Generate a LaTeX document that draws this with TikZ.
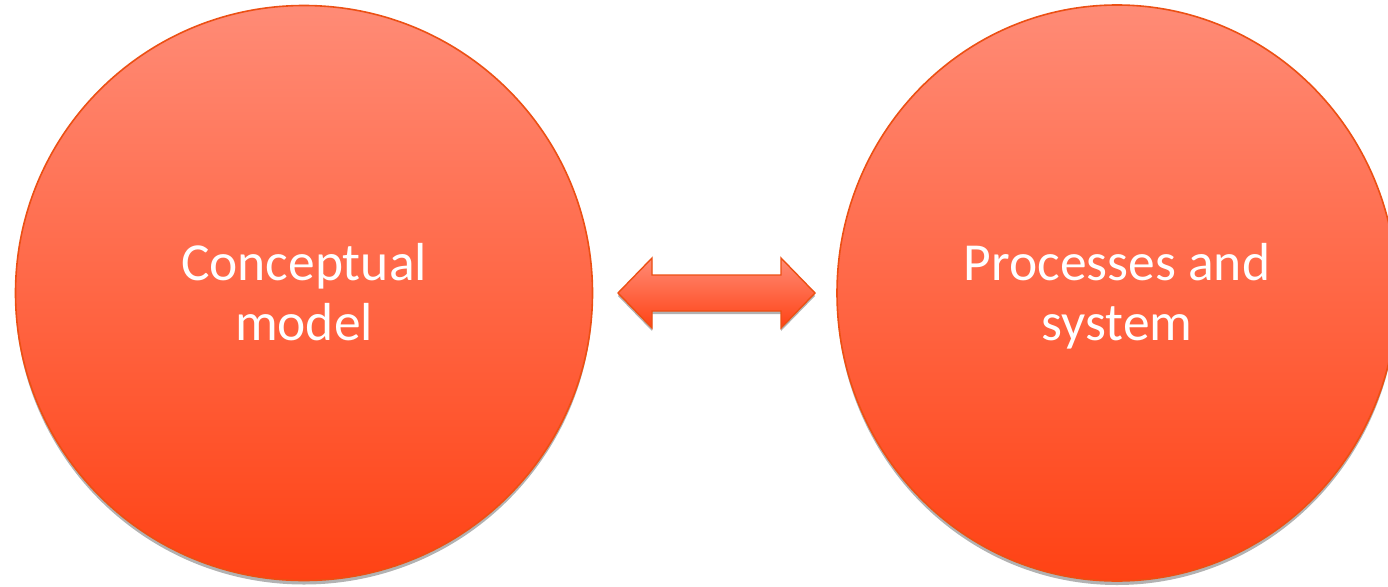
\documentclass[tikz,border=0pt]{standalone}
\usepackage{fontspec}
\setmainfont{Carlito}
\usetikzlibrary{shadows,shapes.geometric}
\definecolor{topc}{RGB}{255,139,118}
\definecolor{botc}{RGB}{255,66,20}
\definecolor{edgec}{RGB}{236,80,20}
\newcommand\lnstrut{\rule[-10pt]{0pt}{54pt}}
\tikzset{
  bubble/.style={ellipse, inner sep=0pt, draw=edgec, line width=1.6pt,
    top color=topc, bottom color=botc, text=white, align=center,
    font=\fontsize{53.5}{60}\selectfont,
    drop shadow={shadow xshift=0pt, shadow yshift=-4pt, opacity=0.3, fill=black}},
  dblarrow/.style={draw=edgec, line width=1.4pt, top color=topc, bottom color=botc,
    line join=miter,
    drop shadow={shadow xshift=0pt, shadow yshift=-3pt, opacity=0.3, fill=black}}
}
\begin{document}
\begin{tikzpicture}[x=1pt,y=-1pt]
\useasboundingbox (0,0) rectangle (1388,586);
\node[bubble, minimum width=577pt, minimum height=575pt] (cm) at (304,293)
  {\lnstrut Conceptual\\\lnstrut model};
\node[bubble, minimum width=560pt, minimum height=576pt] (ps) at (1117,293)
  {\lnstrut Processes and\\\lnstrut system};
\coordinate (lt) at (618,293);
\coordinate (rt) at (815,293);
\path[dblarrow] (lt) -- (652,258) -- (652,275) -- (781,275) -- (781,258) -- (rt)
  -- (781,328) -- (781,311) -- (652,311) -- (652,328) -- cycle;
\end{tikzpicture}
\end{document}
